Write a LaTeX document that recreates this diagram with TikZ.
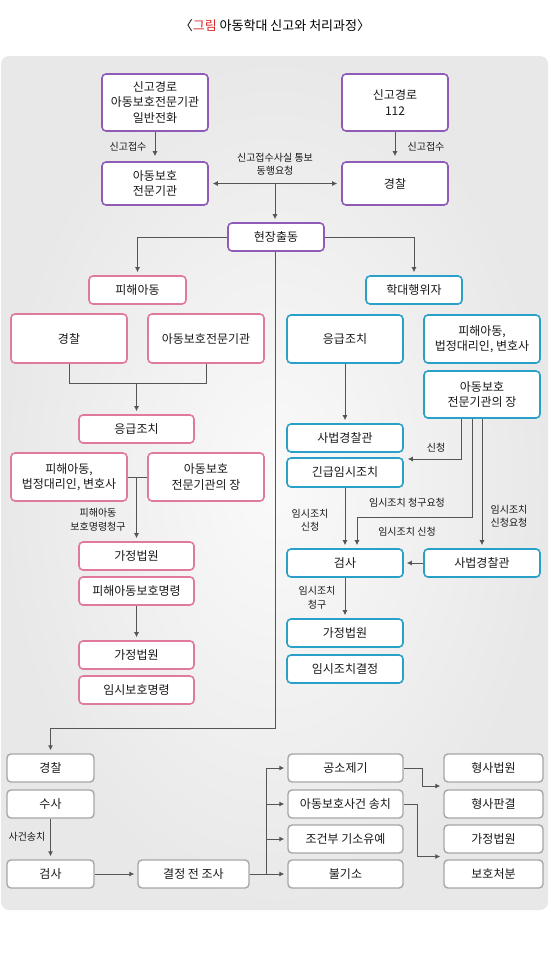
\documentclass[tikz,border=0pt]{standalone}
\usepackage{fontspec}
\setmainfont{Noto Sans CJK KR}
\usetikzlibrary{arrows.meta}
\definecolor{purp}{HTML}{8E5CB8}
\definecolor{pinkb}{HTML}{E0799E}
\definecolor{cyanb}{HTML}{2AA0C8}
\definecolor{lineg}{HTML}{555555}
\definecolor{titlered}{HTML}{D9262B}

\begin{document}
\begin{tikzpicture}[x=1pt,y=-1pt,
        boxbase/.style={draw, fill=white, rounded corners=4pt, line width=1.6pt, align=center, inner sep=0pt,
            minimum height=28pt, text=black!90, font=\fontsize{12}{15.5}\selectfont},
        pbox/.style={boxbase, draw=purp},
        kbox/.style={boxbase, draw=pinkb},
        cbox/.style={boxbase, draw=cyanb},
        gbox/.style={boxbase, draw=gray!70, line width=1.4pt, minimum width=87pt},
        lbl/.style={font=\fontsize{10}{13.5}\selectfont, align=center, inner sep=0pt, text=black!90},
        link/.style={draw=lineg, line width=0.9pt},
        arr/.style={link, -{Latex[length=5pt,width=5pt]}, shorten >=3pt}]
        \useasboundingbox (0,0) rectangle (550,970);
        \shade[rounded corners=8pt, inner color=white!98!black, outer color=white!91!black] (1,56) rectangle (548,910);
        \node (title) at (275,26) {\fontsize{13}{15}\selectfont 〈\textcolor{titlered}{그림} 아동학대 신고와 처리과정〉};

        \node[pbox, minimum width=106pt, minimum height=57pt] (src1) at (155,102.5) {신고경로\\아동보호전문기관\\일반전화};
        \node[pbox, minimum width=106pt, minimum height=57pt] (src2) at (395,102.5) {신고경로\\112};
        \node[pbox, minimum width=106pt, minimum height=43pt] (agency) at (155,183.5) {아동보호\\전문기관};
        \node[pbox, minimum width=106pt, minimum height=43pt] (police) at (395,183.5) {경찰};
        \node[pbox, minimum width=96pt] (scene) at (276,237) {현장출동};
        \draw[arr, shorten >=5pt] (src1) -- (agency);
        \draw[arr, shorten >=5pt] (src2) -- (police);
        \node[lbl] (rcv1) at (128,147) {신고접수};
        \node[lbl] (rcv2) at (426,147) {신고접수};
        \draw[link, {Latex[length=5pt,width=5pt]}-{Latex[length=5pt,width=5pt]}, shorten <=4pt, shorten >=4pt] (agency) -- (police);
        \node[lbl] (notice) at (275,164) {신고접수사실 통보\\동행요청};
        \coordinate (mid) at (275,183.5);
        \draw[arr] (mid) -- (mid |- scene.north);

        \node[kbox, minimum width=97pt] (victim) at (137.5,290) {피해아동};
        \node[kbox, minimum width=116pt, minimum height=49pt] (lpolice) at (69,338.5) {경찰};
        \node[kbox, minimum width=116pt, minimum height=49pt] (lagency) at (206,338.5) {아동보호전문기관};
        \node[kbox, minimum width=115pt] (lemerg) at (136.5,429) {응급조치};
        \node[kbox, minimum width=116pt, minimum height=48pt] (lparty) at (69,477) {피해아동,\\법정대리인, 변호사};
        \node[kbox, minimum width=116pt, minimum height=48pt] (lhead) at (206,477) {아동보호\\전문기관의 장};
        \node[kbox, minimum width=115pt] (lcourt1) at (136.5,556) {가정법원};
        \node[kbox, minimum width=115pt] (lorder1) at (136.5,591) {피해아동보호명령};
        \node[kbox, minimum width=115pt] (lcourt2) at (136.5,655) {가정법원};
        \node[kbox, minimum width=115pt] (lorder2) at (136.5,690) {임시보호명령};
        \draw[arr] (scene.west) -| (victim.north);
        \draw[link] (lpolice.south) -- ++(0,20) -| (lagency.south);
        \coordinate (ljoin) at (136.5,384);
        \draw[arr] (ljoin) -- (lemerg.north);
        \draw[link] (lparty.east) -- (lhead.west);
        \coordinate (lsplit) at (136.5,477);
        \draw[arr] (lsplit) -- (lcourt1.north);
        \node[lbl] (lclaim) at (98,520) {피해아동\\보호명령청구};
        \draw[arr] (lorder1) -- (lcourt2);

        \node[cbox, minimum width=96pt] (abuser) at (414,290) {학대행위자};
        \node[cbox, minimum width=116pt, minimum height=48pt] (remerg) at (345,339) {응급조치};
        \node[cbox, minimum width=116pt, minimum height=48pt] (rparty) at (482,339) {피해아동,\\법정대리인, 변호사};
        \node[cbox, minimum width=116pt, minimum height=47pt] (rhead) at (482,394.5) {아동보호\\전문기관의 장};
        \node[cbox, minimum width=116pt] (rjudpol1) at (345,438) {사법경찰관};
        \node[cbox, minimum width=116pt, minimum height=29pt] (rtemp) at (345,472.5) {긴급임시조치};
        \node[cbox, minimum width=116pt] (rprosec) at (345,563) {검사};
        \node[cbox, minimum width=116pt] (rjudpol2) at (482,563) {사법경찰관};
        \node[cbox, minimum width=116pt] (rcourt) at (345,633) {가정법원};
        \node[cbox, minimum width=116pt] (rdecision) at (345,669) {임시조치결정};
        \draw[arr] (scene.east) -| (abuser.north);
        \draw[arr] (remerg) -- (rjudpol1);
        \coordinate (rb1) at (461,459);
        \draw[arr, shorten >=4pt] (rb1 |- rhead.south) -- (rb1) -- (rb1 -| rtemp.east);
        \node[lbl] (apply1) at (436,448) {신청};
        \coordinate (rb2) at (472,517);
        \coordinate (rb3) at (357,517);
        \draw[arr] (rb2 |- rhead.south) -- (rb2) -- (rb3) -- (rb3 |- rprosec.north);
        \node[lbl] (req1) at (407,503) {임시조치 청구요청};
        \node[lbl] (apply2) at (407,532) {임시조치 신청};
        \draw[arr] (rhead) -- (rjudpol2);
        \node[lbl] (req2) at (509,516) {임시조치\\신청요청};
        \draw[arr] (rtemp) -- (rprosec);
        \node[lbl] (apply3) at (310,520) {임시조치\\신청};
        \draw[arr] (rjudpol2) -- (rprosec);
        \draw[arr] (rprosec) -- (rcourt);
        \node[lbl] (claim) at (317,598) {임시조치\\청구};

        \node[gbox] (bpolice) at (50.5,768) {경찰};
        \node[gbox] (binvest) at (50.5,804) {수사};
        \node[gbox] (bprosec) at (50.5,874) {검사};
        \node[gbox, minimum width=111pt] (bcheck) at (193.5,874) {결정 전 조사};
        \node[gbox, minimum width=115pt] (bindict) at (345.5,768) {공소제기};
        \node[gbox, minimum width=115pt] (btransfer) at (345.5,804) {아동보호사건 송치};
        \node[gbox, minimum width=115pt] (bsuspend) at (345.5,839) {조건부 기소유예};
        \node[gbox, minimum width=115pt] (bdrop) at (345.5,874) {불기소};
        \node[gbox, minimum width=99pt] (bcourt) at (493.5,768) {형사법원};
        \node[gbox, minimum width=99pt] (bverdict) at (493.5,804) {형사판결};
        \node[gbox, minimum width=99pt] (bfamily) at (493.5,839) {가정법원};
        \node[gbox, minimum width=99pt] (bprotect) at (493.5,874) {보호처분};
        \coordinate (down) at (275,728);
        \draw[arr] (scene.south -| down) -- (down) -| (bpolice.north);
        \draw[arr] (binvest) -- (bprosec);
        \node[lbl] (send) at (27,837) {사건송치};
        \draw[arr] (bprosec) -- (bcheck);
        \coordinate (fork) at (266,874);
        \coordinate (forktop) at (266,768);
        \draw[link] (bcheck.east) -- (fork) -- (forktop);
        \draw[arr] (forktop) -- (bindict);
        \draw[arr] (fork |- btransfer) -- (btransfer);
        \draw[arr] (fork |- bsuspend) -- (bsuspend);
        \draw[arr] (fork) -- (bdrop);
        \coordinate (jb1) at (422,786);
        \draw[arr] (bindict.east) -| (jb1) -- (jb1 -| bcourt.west);
        \coordinate (jb2) at (417,856.5);
        \draw[arr] (btransfer.east) -| (jb2) -- (jb2 -| bfamily.west);
\end{tikzpicture}
\end{document}
